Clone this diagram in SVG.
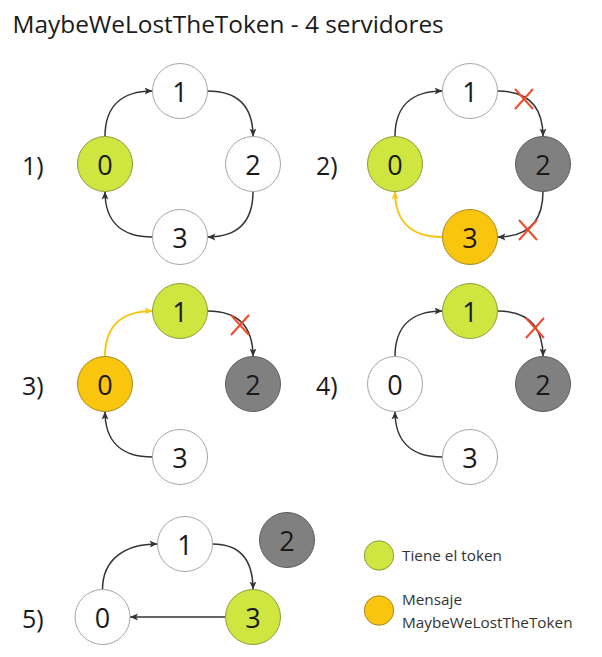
<svg xmlns="http://www.w3.org/2000/svg" width="602" height="657" viewBox="0 0 602 657">
<style>
text{font-family:"Open Sans","Noto Sans","Liberation Sans",sans-serif;fill:#1a1a1a}
.t{font-size:24.4px}
.num{font-size:27px;text-anchor:middle;dominant-baseline:central}
.lbl{font-size:25px}
.leg{font-size:15.3px;fill:#333}
.w{fill:#fff;stroke:#a6a6a6;stroke-width:1}
.g{fill:#cfe540;stroke:#8f9c3a;stroke-width:1}
.y{fill:#f9c50f;stroke:#a88a22;stroke-width:1}
.k{fill:#808080;stroke:#5e5e5e;stroke-width:1}
.e{fill:none;stroke:#333;stroke-width:1.5;marker-end:url(#ab)}
.ey{fill:none;stroke:#f6c714;stroke-width:2;marker-end:url(#ay)}
.x{stroke:#f04b2c;stroke-width:2;fill:none}
</style>
<defs>
<marker id="ab" markerUnits="userSpaceOnUse" markerWidth="9" markerHeight="8" refX="8" refY="4" orient="auto"><path d="M0,0.5 L8,4 L0,7.5 L2,4 z" fill="#333"/></marker>
<marker id="ay" markerUnits="userSpaceOnUse" markerWidth="9" markerHeight="8" refX="8" refY="4" orient="auto"><path d="M0,0.5 L8,4 L0,7.5 L2,4 z" fill="#f6c714"/></marker>
</defs>
<rect width="602" height="657" fill="#fff"/>
<text class="t" x="12.5" y="33">MaybeWeLostTheToken - 4 servidores</text>
<g id="labels">
<text class="lbl" x="22" y="175">1)</text>
<text class="lbl" x="316" y="175">2)</text>
<text class="lbl" x="22" y="395">3)</text>
<text class="lbl" x="316" y="395">4)</text>
<text class="lbl" x="22" y="628">5)</text>
</g>
<g id="connectors">
<path class="e" d="M105,136.5 C105,106 122,91 152.5,91"/>
<path class="e" d="M207.5,91 C238,91 253,106 253,136.5"/>
<path class="e" d="M253,191.5 C253,222 238,237 207.5,237"/>
<path class="e" d="M152.5,237 C122,237 105,222 105,191.5"/>
<path class="e" d="M395,136.5 C395,106 412,91 442.5,91"/>
<path class="e" d="M497.5,91 C528,91 543,106 543,136.5"/>
<path class="e" d="M543,191.5 C543,222 528,237 497.5,237"/>
<path class="ey" d="M442.5,237 C412,237 395,222 395,191.5"/>
<path class="ey" d="M105,356.5 C105,326 122,311 152.5,311"/>
<path class="e" d="M207.5,311 C238,311 253,326 253,356.5"/>
<path class="e" d="M152.5,457 C122,457 105,442 105,411.5"/>
<path class="e" d="M395,356.5 C395,326 412,311 442.5,311"/>
<path class="e" d="M497.5,311 C528,311 543,326 543,356.5"/>
<path class="e" d="M442.5,457 C412,457 395,442 395,411.5"/>
<path class="e" d="M102.5,589.5 C102.5,559 125,544 157.5,544"/>
<path class="e" d="M212.5,544 C240,544 253,559 253,589.5"/>
<path class="e" d="M225.5,617 L130,617"/>
<path class="x" d="M515,89 L533,109 M533,89 L515,109"/>
<path class="x" d="M519,220 L537,240 M537,220 L519,240"/>
<path class="x" d="M231,315 L249,335 M249,315 L231,335"/>
<path class="x" d="M526,318 L544,338 M544,318 L526,338"/>
</g>
<g id="p1-n0"><circle class="g" cx="105" cy="164" r="27.5"/><text class="num" x="105" y="164">0</text></g>
<g id="p1-n1"><circle class="w" cx="180" cy="91" r="27.5"/><text class="num" x="180" y="91">1</text></g>
<g id="p1-n2"><circle class="w" cx="253" cy="164" r="27.5"/><text class="num" x="253" y="164">2</text></g>
<g id="p1-n3"><circle class="w" cx="180" cy="237" r="27.5"/><text class="num" x="180" y="237">3</text></g>
<g id="p2-n0"><circle class="g" cx="395" cy="164" r="27.5"/><text class="num" x="395" y="164">0</text></g>
<g id="p2-n1"><circle class="w" cx="470" cy="91" r="27.5"/><text class="num" x="470" y="91">1</text></g>
<g id="p2-n2"><circle class="k" cx="543" cy="164" r="27.5"/><text class="num" x="543" y="164">2</text></g>
<g id="p2-n3"><circle class="y" cx="470" cy="237" r="27.5"/><text class="num" x="470" y="237">3</text></g>
<g id="p3-n0"><circle class="y" cx="105" cy="384" r="27.5"/><text class="num" x="105" y="384">0</text></g>
<g id="p3-n1"><circle class="g" cx="180" cy="311" r="27.5"/><text class="num" x="180" y="311">1</text></g>
<g id="p3-n2"><circle class="k" cx="253" cy="384" r="27.5"/><text class="num" x="253" y="384">2</text></g>
<g id="p3-n3"><circle class="w" cx="180" cy="457" r="27.5"/><text class="num" x="180" y="457">3</text></g>
<g id="p4-n0"><circle class="w" cx="395" cy="384" r="27.5"/><text class="num" x="395" y="384">0</text></g>
<g id="p4-n1"><circle class="g" cx="470" cy="311" r="27.5"/><text class="num" x="470" y="311">1</text></g>
<g id="p4-n2"><circle class="k" cx="543" cy="384" r="27.5"/><text class="num" x="543" y="384">2</text></g>
<g id="p4-n3"><circle class="w" cx="470" cy="457" r="27.5"/><text class="num" x="470" y="457">3</text></g>
<g id="p5-n0"><circle class="w" cx="102.5" cy="617" r="27.5"/><text class="num" x="102.5" y="617">0</text></g>
<g id="p5-n1"><circle class="w" cx="185" cy="544" r="27.5"/><text class="num" x="185" y="544">1</text></g>
<g id="p5-n2"><circle class="k" cx="287" cy="540" r="27.5"/><text class="num" x="287" y="540">2</text></g>
<g id="p5-n3"><circle class="g" cx="253" cy="617" r="27.5"/><text class="num" x="253" y="617">3</text></g>
<g id="legend-token"><circle class="g" cx="379" cy="555.5" r="14.7"/><text class="leg" x="402" y="561">Tiene el token</text></g>
<g id="legend-msg"><circle class="y" cx="379" cy="610.5" r="14.7"/><text class="leg" x="402" y="604.5">Mensaje</text><text class="leg" x="402" y="627.5">MaybeWeLostTheToken</text></g>
</svg>
